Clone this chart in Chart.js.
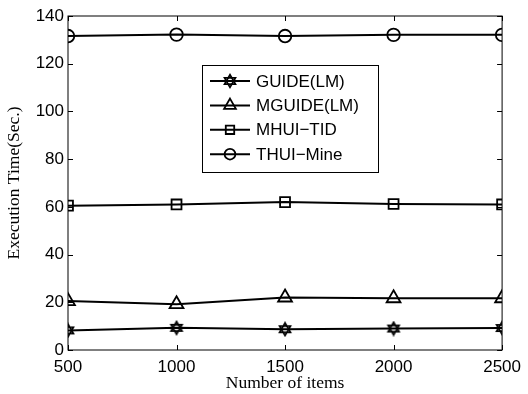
<!DOCTYPE html>
<html><head><meta charset="utf-8">
<script src="https://cdn.jsdelivr.net/npm/chart.js@4/dist/chart.umd.min.js"></script>
<style>html,body{margin:0;padding:0;background:#fff}#wrap{width:528px;height:394px}</style>
</head><body><div id="wrap"><canvas id="c" width="528" height="394"></canvas></div>
<script>
const items = [500, 1000, 1500, 2000, 2500];
const seriesNames = ["GUIDE(LM)", "MGUIDE(LM)", "MHUI\u2212TID", "THUI\u2212Mine"];
const guideLM = [8.2, 9.3, 8.7, 9.0, 9.2];
const mguideLM = [20.5, 19.2, 22.0, 21.7, 21.7];
const mhuiTID = [60.5, 61.0, 62.0, 61.2, 61.0];
const thuiMine = [131.6, 132.2, 131.6, 132.1, 132.1];
const xTicks = [500, 1000, 1500, 2000, 2500];
const yTicks = [0, 20, 40, 60, 80, 100, 120, 140];

function hexagram(){
  const s = 16, c = document.createElement('canvas');
  c.width = s; c.height = s;
  const g = c.getContext('2d');
  g.strokeStyle = '#000'; g.lineWidth = 1.7; g.lineJoin = 'miter';
  const r = 6.3, cx = s/2, cy = s/2;
  for (const off of [-Math.PI/2, Math.PI/2]) {
    g.beginPath();
    for (let k = 0; k < 3; k++) {
      const a = off + k*2*Math.PI/3;
      const px = cx + r*Math.cos(a), py = cy + r*Math.sin(a);
      k ? g.lineTo(px, py) : g.moveTo(px, py);
    }
    g.closePath(); g.stroke();
  }
  return c;
}
const star = hexagram();

const styles = [
  {pointStyle: star, pointRadius: 7},
  {pointStyle: 'triangle', pointRadius: 8},
  {pointStyle: 'rect', pointRadius: 7},
  {pointStyle: 'circle', pointRadius: 6.3}
];
const values = [guideLM, mguideLM, mhuiTID, thuiMine];

const datasets = values.map((v, i) => ({
  label: seriesNames[i],
  data: items.map((x, j) => ({x, y: v[j]})),
  borderColor: '#000', borderWidth: 2,
  pointBorderColor: '#000', pointBackgroundColor: 'rgba(0,0,0,0)',
  pointBorderWidth: 1.8,
  pointStyle: styles[i].pointStyle, pointRadius: styles[i].pointRadius,
  pointHoverRadius: styles[i].pointRadius,
  tension: 0, fill: false
}));

const frame = {
  id: 'frame',
  afterDraw(chart) {
    const {ctx, chartArea: a, scales: {x, y}} = chart;
    ctx.save();
    ctx.strokeStyle = '#000'; ctx.lineWidth = 1;
    ctx.strokeRect(a.left, a.top, a.right - a.left, a.bottom - a.top);
    const L = 5;
    ctx.beginPath();
    xTicks.forEach(v => {
      const px = Math.round(x.getPixelForValue(v)) + 0.5;
      ctx.moveTo(px, a.bottom); ctx.lineTo(px, a.bottom - L);
      ctx.moveTo(px, a.top); ctx.lineTo(px, a.top + L);
    });
    yTicks.forEach(v => {
      const py = Math.round(y.getPixelForValue(v)) + 0.5;
      ctx.moveTo(a.left, py); ctx.lineTo(a.left + L, py);
      ctx.moveTo(a.right, py); ctx.lineTo(a.right - L, py);
    });
    ctx.stroke();
    // legend
    const bx = 202.5, by = 65.5, bw = 176, bh = 107;
    ctx.fillStyle = '#fff';
    ctx.fillRect(bx, by, bw, bh);
    ctx.strokeRect(bx, by, bw, bh);
    ctx.font = '17px "Liberation Sans", Arial, sans-serif';
    ctx.textBaseline = 'middle'; ctx.textAlign = 'left';
    chart.data.datasets.forEach((ds, i) => {
      const ry = 81 + i*24.4;
      ctx.strokeStyle = '#000'; ctx.lineWidth = 2;
      ctx.beginPath(); ctx.moveTo(210, ry); ctx.lineTo(250, ry); ctx.stroke();
      ctx.lineWidth = 1.8;
      ctx.fillStyle = 'rgba(0,0,0,0)';
      Chart.helpers.drawPoint(ctx, {pointStyle: ds.pointStyle, radius: ds.pointRadius * 0.85, borderWidth: 1.8, rotation: 0}, 230, ry);
      ctx.fillStyle = '#000';
      ctx.fillText(ds.label, 256, ry + 1);
    });
    ctx.restore();
  }
};

new Chart(document.getElementById('c'), {
  type: 'line',
  data: {datasets},
  options: {
    responsive: false, animation: false, devicePixelRatio: 1,
    layout: {padding: {top: 16, right: 21, left: 0, bottom: 0}},
    plugins: {legend: {display: false}, tooltip: {enabled: false}},
    scales: {
      x: {
        type: 'linear', min: 500, max: 2500,
        grid: {display: false, drawTicks: false},
        border: {display: false},
        afterBuildTicks: s => { s.ticks = xTicks.map(v => ({value: v})); },
        afterFit: s => { s.height = 44; },
        ticks: {color: '#000', padding: 7, maxRotation: 0, autoSkip: false,
          callback: v => String(v),
          font: {family: '"Liberation Sans", Arial, sans-serif', size: 17}},
        title: {display: true, text: 'Number of items', color: '#000',
          padding: {top: 0, bottom: 0},
          font: {family: '"Liberation Serif", "Times New Roman", serif', size: 17.5, lineHeight: 1.2}}
      },
      y: {
        min: 0, max: 140,
        grid: {display: false, drawTicks: false},
        border: {display: false},
        afterBuildTicks: s => { s.ticks = yTicks.map(v => ({value: v})); },
        afterFit: s => { s.width = 68; },
        ticks: {color: '#000', padding: 4, autoSkip: false,
          callback: v => String(v),
          font: {family: '"Liberation Sans", Arial, sans-serif', size: 17}},
        title: {display: true, text: 'Execution Time(Sec.)', color: '#000',
          padding: {top: 4, bottom: 0},
          font: {family: '"Liberation Serif", "Times New Roman", serif', size: 17.5, lineHeight: 1.2}}
      }
    }
  },
  plugins: [frame]
});
</script></body></html>
